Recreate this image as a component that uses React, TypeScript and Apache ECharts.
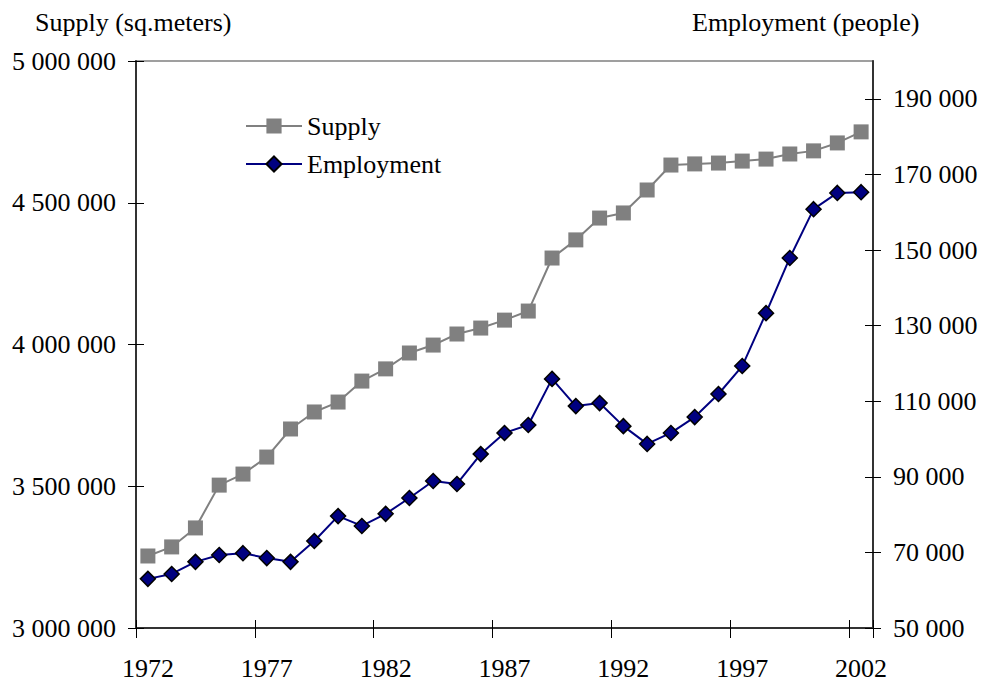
import React, { useEffect, useRef } from "react";
import * as echarts from "echarts";

const years: string[] = [
  "1972", "1973", "1974", "1975", "1976", "1977", "1978", "1979", "1980", "1981",
  "1982", "1983", "1984", "1985", "1986", "1987", "1988", "1989", "1990", "1991",
  "1992", "1993", "1994", "1995", "1996", "1997", "1998", "1999", "2000", "2001", "2002",
];

const supply: number[] = [
  3254000, 3286000, 3353000, 3504000, 3543000, 3603000, 3702000, 3762000, 3797000, 3871000,
  3914000, 3970000, 3998000, 4037000, 4058000, 4086000, 4118000, 4305000, 4369000, 4446000,
  4464000, 4545000, 4633000, 4637000, 4640000, 4647000, 4654000, 4672000, 4683000, 4711000, 4750000,
];

const employment: number[] = [
  63000, 64300, 67500, 69300, 69800, 68500, 67500, 73000, 79600, 77000,
  80200, 84400, 88900, 88100, 96000, 101600, 103700, 115900, 108700, 109500,
  103400, 98700, 101600, 105800, 111900, 119300, 133300, 147900, 160800, 165100, 165300,
];

const rightTicks: number[] = [50000, 70000, 90000, 110000, 130000, 150000, 170000, 190000];

const FONT = "Liberation Serif";
const FS = 26;

const fmt = (v: number) => String(Math.round(v)).replace(/\B(?=(\d{3})+(?!\d))/g, " ");

export default function App() {
  const ref = useRef<HTMLDivElement>(null);
  useEffect(() => {
    if (!ref.current) return;
    const chart = echarts.init(ref.current, undefined, { renderer: "svg" });
    const axisLineStyle = { color: "#333333", width: 2 };
    chart.setOption({
      animation: false,
      backgroundColor: "#ffffff",
      textStyle: { fontFamily: FONT, color: "#000" },
      grid: {
        left: 136,
        right: 112,
        top: 61,
        bottom: 56,
        show: true,
        borderColor: "#808080",
        borderWidth: 1.5,
        containLabel: false,
      },
      graphic: [
        {
          type: "text",
          left: 35,
          top: 9,
          style: { text: "Supply (sq.meters)", fontFamily: FONT, fontSize: FS, fill: "#000" },
        },
        {
          type: "text",
          left: 692,
          top: 9,
          style: { text: "Employment (people)", fontFamily: FONT, fontSize: FS, fill: "#000" },
        },
      ],
      legend: {
        orient: "vertical",
        left: 240,
        top: 108,
        itemWidth: 56,
        itemHeight: 19,
        itemGap: 12,
        textStyle: { fontFamily: FONT, fontSize: FS, color: "#000" },
        data: ["Supply", "Employment"],
      },
      xAxis: [
        {
          type: "category",
          data: years,
          boundaryGap: true,
          position: "bottom",
          axisLine: { show: true, lineStyle: axisLineStyle },
          axisTick: { show: true, interval: 4, length: 10, lineStyle: { color: "#000", width: 1 } },
          axisLabel: { interval: 4, fontFamily: FONT, fontSize: FS, color: "#000", margin: 27 },
          splitLine: { show: false },
        },
        {
          type: "category",
          data: years,
          boundaryGap: true,
          position: "bottom",
          axisLine: { show: false },
          axisTick: { show: true, inside: true, interval: 4, length: 8, lineStyle: { color: "#000", width: 1 } },
          axisLabel: { show: false },
          splitLine: { show: false },
        },
      ],
      yAxis: [
        {
          type: "value",
          position: "left",
          min: 3000000,
          max: 5000000,
          interval: 500000,
          axisLine: { show: true, lineStyle: axisLineStyle },
          axisTick: { show: true, length: 8, lineStyle: { color: "#000", width: 1 } },
          axisLabel: { fontFamily: FONT, fontSize: FS, color: "#000", margin: 20, formatter: fmt },
          splitLine: { show: false },
        },
        {
          type: "value",
          position: "right",
          min: 50000,
          max: 200000,
          axisLine: { show: true, lineStyle: axisLineStyle },
          axisTick: { show: true, length: 8, customValues: rightTicks, lineStyle: { color: "#000", width: 1 } },
          axisLabel: { fontFamily: FONT, fontSize: FS, color: "#000", margin: 20, customValues: rightTicks, formatter: fmt },
          splitLine: { show: false },
        },
        {
          type: "value",
          position: "left",
          min: 3000000,
          max: 5000000,
          interval: 500000,
          axisLine: { show: false },
          axisTick: { show: true, inside: true, length: 8, lineStyle: { color: "#000", width: 1 } },
          axisLabel: { show: false },
          splitLine: { show: false },
        },
        {
          type: "value",
          position: "right",
          min: 50000,
          max: 200000,
          axisLine: { show: false },
          axisTick: { show: true, inside: true, length: 8, customValues: rightTicks, lineStyle: { color: "#000", width: 1 } },
          axisLabel: { show: false, customValues: rightTicks },
          splitLine: { show: false },
        },
      ],
      series: [
        {
          name: "Supply",
          type: "line",
          xAxisIndex: 0,
          yAxisIndex: 0,
          data: supply,
          symbol: "rect",
          symbolSize: 15,
          showAllSymbol: true,
          lineStyle: { color: "#808080", width: 2 },
          itemStyle: { color: "#808080" },
          z: 3,
        },
        {
          name: "Employment",
          type: "line",
          xAxisIndex: 0,
          yAxisIndex: 1,
          data: employment,
          symbol: "diamond",
          symbolSize: 15,
          showAllSymbol: true,
          lineStyle: { color: "#000080", width: 2 },
          itemStyle: { color: "#000080", borderColor: "#000", borderWidth: 1.5 },
          z: 4,
        },
      ],
    });
    return () => chart.dispose();
  }, []);
  return (
    <div
      ref={ref}
      style={{ position: "absolute", left: 0, top: 0, width: 985, height: 684 }}
    />
  );
}
